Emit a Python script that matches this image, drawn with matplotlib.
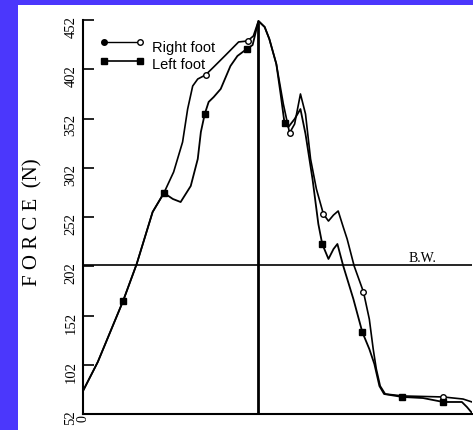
import matplotlib
matplotlib.use("Agg")
import matplotlib.pyplot as plt
from matplotlib.patches import Rectangle

# Vertical ground reaction force during stance (% of stance time vs force in N)
right_t = [0, 3.8, 10.3, 13.8, 17.9, 20.8, 23.3, 25.6, 26.9, 28.2, 29.5, 31.5,
           33.6, 36.7, 40.0, 42.3, 43.8, 45.1, 46.7, 47.9, 49.7, 51.5, 53.1,
           54.4, 55.9, 57.2, 58.5, 60.0, 61.8, 63.1, 64.4, 65.6, 66.9, 67.9,
           69.7, 72.1, 73.6, 74.6, 75.4, 76.4, 77.7, 82.3, 92.6, 97.7, 100]
right_f = [75.4, 104.8, 166.7, 204.3, 257.1, 276.4, 297.7, 328.1, 361.6, 385.0,
           392.1, 396.2, 404.3, 416.5, 429.7, 430.7, 435.8, 451.0, 444.9, 432.7,
           407.3, 366.7, 337.3, 346.4, 376.9, 356.6, 310.9, 280.4, 255.0, 247.9,
           254.0, 258.1, 241.8, 229.7, 202.3, 175.9, 148.4, 118.0, 97.7, 80.4,
           72.3, 70.3, 69.3, 67.2, 64.2]
right_marks = [11, 15, 22, 28, 35, 42]

left_t = [0, 3.8, 10.3, 13.8, 17.9, 20.8, 23.1, 25.1, 27.7, 29.5, 30.3, 31.3,
          32.3, 33.6, 35.4, 37.9, 39.7, 42.1, 43.6, 45.1, 46.7, 47.9, 49.7,
          50.8, 51.8, 52.8, 54.4, 55.9, 57.2, 59.0, 60.5, 61.5, 63.1, 64.4,
          65.4, 66.9, 69.5, 71.8, 73.6, 74.9, 76.2, 77.4, 82.1, 87.4, 92.6,
          97.4, 98.7, 100]
left_f = [75.4, 104.8, 166.7, 204.3, 257.1, 276.4, 270.3, 267.2, 283.5, 310.9,
          338.3, 356.6, 368.8, 373.8, 382.0, 405.3, 415.5, 422.6, 426.6, 451.0,
          444.9, 432.7, 407.3, 376.9, 347.4, 343.4, 351.5, 361.6, 336.3, 290.6,
          244.9, 224.6, 209.4, 219.5, 224.6, 202.3, 168.8, 135.2, 118.0, 102.8,
          80.4, 72.3, 69.3, 68.2, 64.2, 64.2, 59.1, 53.0]
left_marks = [2, 5, 11, 17, 24, 31, 37, 42, 44]

body_weight = 203
peak_time = 44.9
y_ticks = [52, 102, 152, 202, 252, 302, 352, 402, 452]

W, H = 473, 431
fig = plt.figure(figsize=(W / 100, H / 100), dpi=100, facecolor="#4b37fc")
fig.patches.append(Rectangle((18 / W, 0), 1 - 18 / W, 1 - 6 / H,
                             transform=fig.transFigure, facecolor="white",
                             edgecolor="none", zorder=-5))

ax = fig.add_axes([83 / W, 1 - 415 / H, 389 / W, 394 / H])
ax.set_zorder(2)
ax.set_facecolor("none")
ax.set_xlim(0, 100)
ax.set_ylim(52, 452)

ax.plot(right_t, right_f, color="black", lw=1.2, marker="o", ms=4,
        mfc="white", mec="black", mew=1.0, markevery=right_marks, zorder=3)
ax.plot(left_t, left_f, color="black", lw=1.3, marker="s", ms=4.5,
        mfc="black", mec="black", markevery=left_marks, zorder=3)

# Body-weight reference and time of peak force
ax.plot([0, 100], [body_weight, body_weight], color="black", lw=1.2, zorder=2)
ax.text(87.2, body_weight + 8, "B.W.", fontsize=10, family="Liberation Serif",
        ha="center", va="center")
ax.plot([peak_time, peak_time], [52, 448], color="black", lw=2.0, zorder=2)

for side in ("top", "right"):
    ax.spines[side].set_visible(False)
for side in ("left", "bottom"):
    ax.spines[side].set_linewidth(1.5)

ax.set_yticks(y_ticks)
ax.set_yticklabels([str(v) for v in y_ticks], rotation=90,
                   family="Liberation Serif", fontsize=10.5)
ax.tick_params(axis="y", direction="in", length=8, width=1.2, pad=4)
ax.set_xticks([0])
ax.set_xticklabels(["0"], rotation=90, family="Liberation Serif", fontsize=10)
ax.tick_params(axis="x", length=0, pad=0)

ax.set_ylabel("F O R C E  (N)", family="Liberation Serif", fontsize=15)
ax.yaxis.set_label_coords(-0.105, 0.49)

# Key
tr = ax.transAxes
ax.plot([0.054, 0.1465], [0.944, 0.944], color="black", lw=1.0,
        transform=tr, clip_on=False)
ax.plot([0.054], [0.944], "o", ms=4, color="black", transform=tr, clip_on=False)
ax.plot([0.1465], [0.944], "o", ms=4, mfc="white", mec="black",
        transform=tr, clip_on=False)
ax.plot([0.054, 0.1465], [0.896, 0.896], color="black", lw=1.2,
        transform=tr, clip_on=False)
ax.plot([0.054, 0.1465], [0.896, 0.896], "s", ms=4, color="black",
        transform=tr, clip_on=False)
legend_font = ["Liberation Sans Narrow", "Liberation Sans", "DejaVu Sans"]
ax.text(0.178, 0.931, "Right foot", transform=tr, family=legend_font,
        fontsize=10.5, va="center", ha="left")
ax.text(0.178, 0.888, "Left foot", transform=tr, family=legend_font,
        fontsize=10.5, va="center", ha="left")

fig.savefig("out.png", dpi=100, facecolor=fig.get_facecolor())
